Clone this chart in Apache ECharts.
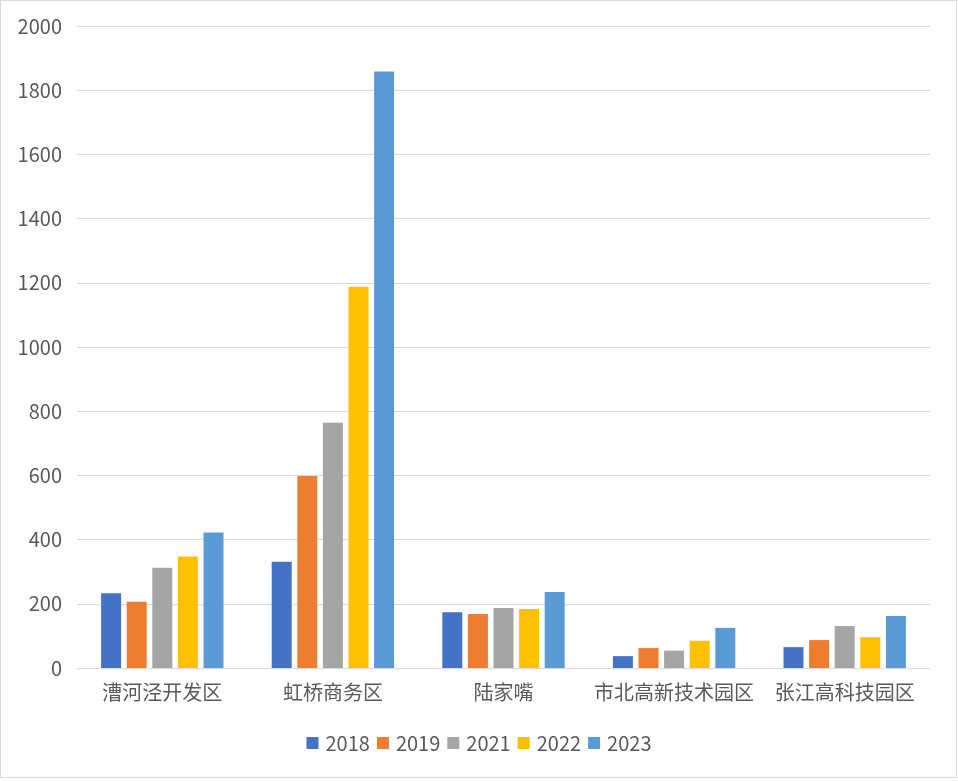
<!DOCTYPE html>
<html>
<head>
<meta charset="utf-8">
<script src="https://cdn.jsdelivr.net/npm/echarts@6/dist/echarts.min.js"></script>
<style>
html,body{margin:0;padding:0;background:#fff;}
#frame{position:absolute;left:0;top:0;width:955px;height:776px;border:1px solid #d9d9d9;}
#chart{position:absolute;left:0;top:0;width:958px;height:781px;}
</style>
</head>
<body>
<div id="frame"></div>
<div id="chart"></div>
<script>
const categories = ['漕河泾开发区', '虹桥商务区', '陆家嘴', '市北高新技术园区', '张江高科技园区'];
const seriesNames = ['2018', '2019', '2021', '2022', '2023'];
const v2018 = [233, 331, 174, 37, 65];
const v2019 = [206, 598, 168, 62, 87];
const v2021 = [312, 764, 187, 54, 131];
const v2022 = [347, 1188, 184, 85, 96];
const v2023 = [422, 1858, 237, 125, 162];
const yTicks = { min: 0, max: 2000, interval: 200 };

const values = [v2018, v2019, v2021, v2022, v2023];
const colors = ['#4472C4', '#ED7D31', '#A5A5A5', '#FFC000', '#5B9BD5'];
const font = '"Noto Sans CJK SC", "Noto Sans", sans-serif';

const chart = echarts.init(document.getElementById('chart'));
chart.setOption({
  animation: false,
  backgroundColor: 'transparent',
  color: colors,
  textStyle: { fontFamily: font },
  grid: { left: 77, right: 28, top: 26, bottom: 113, containLabel: false },
  legend: {
    data: seriesNames,
    left: 'center',
    top: 728,
    itemWidth: 12,
    itemHeight: 12,
    itemGap: 7,
    icon: 'rect',
    textStyle: { color: '#595959', fontSize: 20, fontFamily: font, padding: [0, 0, 0, 2] }
  },
  xAxis: {
    type: 'category',
    data: categories,
    axisLine: { show: true, lineStyle: { color: '#d9d9d9', width: 1 } },
    axisTick: { show: false },
    axisLabel: { color: '#595959', fontSize: 20, fontFamily: font, margin: 14, interval: 0 }
  },
  yAxis: {
    type: 'value',
    min: yTicks.min,
    max: yTicks.max,
    interval: yTicks.interval,
    axisLine: { show: false },
    axisTick: { show: false },
    splitLine: { lineStyle: { color: '#d9d9d9', width: 1 } },
    axisLabel: { color: '#595959', fontSize: 20, fontFamily: font, margin: 15, formatter: (v) => String(v) }
  },
  series: seriesNames.map((name, i) => ({
    name: name,
    type: 'bar',
    data: values[i],
    barWidth: 20,
    barGap: '28%',
    itemStyle: { color: colors[i] }
  }))
});
</script>
</body>
</html>
